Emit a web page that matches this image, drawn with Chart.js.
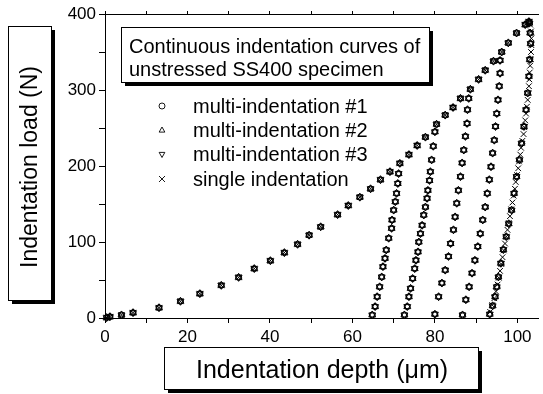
<!DOCTYPE html>
<html>
<head>
<meta charset="utf-8">
<script src="https://cdn.jsdelivr.net/npm/chart.js@4/dist/chart.umd.min.js"></script>
<style>
html,body{margin:0;padding:0;background:#fff;}
#wrap{width:543px;height:394px;position:relative;}
</style>
</head>
<body>
<div id="wrap"><canvas id="c" width="543" height="394"></canvas></div>
<script>
// ---- data ----
const seriesNames = ['multi-indentation #1','multi-indentation #2','multi-indentation #3','single indentation'];
const titleLines = ['Continuous indentation curves of','unstressed SS400 specimen'];
const xTitle = 'Indentation depth (\u03BCm)';
const yTitle = 'Indentation load (N)';

// loading envelope (depth um, load N)
const loadDepth = [0.4,1.2,4.0,6.8,13.1,18.3,23.0,28.2,32.4,36.2,40.1,43.5,46.7,49.5,52.3,56.4,59.0,61.8,64.4,66.8,69.1,71.5,73.7,75.7,77.7,80.4,82.5,84.4,86.2,88.6,90.6,92.2,94.2,96.2,97.8,99.8,101.9,102.8];
const loadForce = [0.5,1.7,4,7,13.5,22,32,43,53.5,65,75.4,86,97,109,120,136,148,159,170,182,192.5,203.5,215,227,238,255,267,277,289,301,314,326,338,350,362,375,386,390];

// unloading curves of multi-indentation
const unload1Depth = [71.2,71.0,70.7,70.4,70.0,69.6,69.5,68.8,68.2,67.9,67.4,67.1,66.6,66.0,65.5,64.8];
const unload1Force = [190,177,164,153,142,129,118,105,89.5,78.5,67.5,54,41,28,15,4];
const unload2Depth = [80.0,79.6,79.2,78.9,78.7,78.3,78.1,77.7,77.3,76.9,76.5,76.1,75.9,75.4,75.1,74.6,74.1,73.7,73.3,72.6];
const unload2Force = [245,226,208,192.5,181,168,157.5,146,135.5,122,111,100,87,76,65,52,39,28,15,4];
const unload3Depth = [88.2,87.9,87.8,87.4,87.0,86.6,86.2,85.7,85.3,84.9,84.5,83.8,83.3,82.5,81.7,80.9,80.0];
const unload3Force = [289,274,256,239,221,204,186,168,151,133,116,98,81,63,46,28,5];
const unload4Depth = [95.8,95.8,95.6,95.3,95.0,94.7,94.4,94.0,93.6,93.2,92.7,92.2,91.6,91.0,90.4,89.7,89.0,88.3,87.5,86.7];
const unload4Force = [339,322,305,287,269,252,234,217,199,182,164,146,129,111,94,76,59,41,24,4];
const unload5Depth = [102.9,103.1,103.2,103.0,102.8,102.5,102.1,101.6,101.0,100.5,99.8,99.2,98.6,97.9,97.3,96.6,96.0,95.4,95.0,94.6,94.0,93.3];
const unload5Force = [388,375,361,340,318,296,274,252,230,208,186,164,142,124,107,90,72,54,41,28,16,5];

// single indentation final unloading
const singleUnloadDepth = [103.1,103.3,103.4,103.4,103.3,103.2,103.1,103.0,102.9,102.8,102.7,102.5,102.3,102.1,101.9,101.7,101.5,101.2,100.9,100.7,100.4,100.2,99.9,99.6,99.4,99.1,98.8,98.5,98.2,97.9,97.6,97.3,97.0,96.7,96.4,96.1,95.8,95.5,95.2,94.8,94.4,93.9,93.4];
const singleUnloadForce = [386,377,368,359,350,341,332,323,314,305,296,287,278,269,260,251,242,233,224,215,206,197,188,179,170,161,152,143,134,125,116,107,98,89,80,71,62,53,44,35,26,17,8];

const xTickValues = [0,20,40,60,80,100];
const yTickValues = [0,100,200,300,400];

// ---- build point lists ----
function zip(xs, ys){ return xs.map((x,i)=>({x:x, y:ys[i]})); }
const multiPoints = [].concat(
  zip(loadDepth, loadForce),
  zip(unload1Depth, unload1Force),
  zip(unload2Depth, unload2Force),
  zip(unload3Depth, unload3Force),
  zip(unload4Depth, unload4Force),
  zip(unload5Depth, unload5Force)
);
const singlePoints = [].concat(zip(loadDepth, loadForce), zip(singleUnloadDepth, singleUnloadForce));

const styles = [
  {pointStyle:'circle', rotation:0, r:3},
  {pointStyle:'triangle', rotation:0, r:4},
  {pointStyle:'triangle', rotation:180, r:4},
  {pointStyle:'crossRot', rotation:0, r:4}
];
const FONT = "'Liberation Sans', Arial, Helvetica, sans-serif";
Chart.defaults.font.family = FONT;
Chart.defaults.color = '#000';

const datasets = seriesNames.map((name,i)=>({
  label: name,
  data: i < 3 ? multiPoints : singlePoints,
  showLine: false,
  pointStyle: styles[i].pointStyle,
  pointRotation: styles[i].rotation,
  pointRadius: styles[i].r,
  pointBorderWidth: 1,
  borderColor: '#000',
  backgroundColor: 'rgba(0,0,0,0)',
  pointBackgroundColor: 'rgba(0,0,0,0)',
  pointBorderColor: '#000',
  clip: false
}));

function shadowBox(ctx, x, y, w, h){
  ctx.save();
  ctx.fillStyle = '#000';
  ctx.fillRect(x+4, y+4, w, h);
  ctx.fillStyle = '#fff';
  ctx.fillRect(x, y, w, h);
  ctx.strokeStyle = '#000';
  ctx.lineWidth = 1;
  ctx.strokeRect(x+0.5, y+0.5, w, h);
  ctx.restore();
}
function marker(ctx, style, x, y, r){
  ctx.save();
  ctx.strokeStyle = '#000';
  ctx.lineWidth = 0.9;
  ctx.beginPath();
  if (style === 0){ ctx.arc(x, y, r, 0, Math.PI*2); }
  else if (style === 1){ ctx.moveTo(x, y-r); ctx.lineTo(x+r*0.95, y+r*0.7); ctx.lineTo(x-r*0.95, y+r*0.7); ctx.closePath(); }
  else if (style === 2){ ctx.moveTo(x, y+r); ctx.lineTo(x+r*0.95, y-r*0.7); ctx.lineTo(x-r*0.95, y-r*0.7); ctx.closePath(); }
  else { ctx.moveTo(x-r, y-r); ctx.lineTo(x+r, y+r); ctx.moveTo(x+r, y-r); ctx.lineTo(x-r, y+r); }
  ctx.stroke();
  ctx.restore();
}

const decor = {
  id: 'decor',
  afterDraw(chart){
    const ctx = chart.ctx;
    // legend title box
    shadowBox(ctx, 121, 27, 308, 55);
    ctx.save();
    ctx.fillStyle = '#000';
    ctx.font = '20px ' + FONT;
    ctx.textAlign = 'left';
    ctx.textBaseline = 'alphabetic';
    ctx.fillText(titleLines[0], 129, 53);
    ctx.fillText(titleLines[1], 129, 76);
    // legend entries
    const rowsY = [106, 130, 154.5, 179];
    seriesNames.forEach((name, i)=>{
      marker(ctx, i, 162, rowsY[i], 3);
      ctx.fillText(name, 193, rowsY[i] + 6.8);
    });
    ctx.restore();

    // y axis title box
    shadowBox(ctx, 8, 26, 43, 274);
    ctx.save();
    ctx.translate(37, 167);
    ctx.rotate(-Math.PI/2);
    ctx.fillStyle = '#000';
    ctx.font = '23px ' + FONT;
    ctx.textAlign = 'center';
    ctx.textBaseline = 'alphabetic';
    ctx.fillText(yTitle, 0, 0);
    ctx.restore();

    // x axis title box
    shadowBox(ctx, 164, 347, 314, 42);
    ctx.save();
    ctx.fillStyle = '#000';
    ctx.font = '25px ' + FONT;
    ctx.textAlign = 'center';
    ctx.textBaseline = 'alphabetic';
    ctx.fillText(xTitle, 322, 378);
    ctx.restore();
  }
};

new Chart(document.getElementById('c'), {
  type: 'scatter',
  data: { datasets },
  options: {
    responsive: false,
    animation: false,
    devicePixelRatio: 1,
    layout: { padding: { left: 0, right: 3, top: 0, bottom: 0 } },
    plugins: { legend: { display: false }, tooltip: { enabled: false } },
    scales: {
      x: {
        type: 'linear', position: 'bottom', min: 0, max: 105,
        afterFit: s => { s.height = 76; },
        grid: { drawOnChartArea: false, drawTicks: true, tickLength: 5, color: '#000', tickColor: '#000' },
        border: { display: true, color: '#000', width: 1 },
        ticks: { stepSize: 10, includeBounds: false, autoSkip: false, maxRotation: 0, padding: 4,
          font: { size: 17 }, color: '#000',
          callback: v => xTickValues.includes(v) ? String(v) : '' }
      },
      x2: {
        type: 'linear', position: 'top', min: 0, max: 105,
        afterFit: s => { s.height = 14; },
        grid: { drawOnChartArea: false, drawTicks: true, tickLength: 3, color: '#000', tickColor: '#000' },
        border: { display: true, color: '#000', width: 1 },
        ticks: { stepSize: 10, includeBounds: false, autoSkip: false, display: true, callback: () => '' , font:{size:1}}
      },
      y: {
        type: 'linear', position: 'left', min: 0, max: 400,
        afterFit: s => { s.width = 105; },
        grid: { drawOnChartArea: false, drawTicks: true, tickLength: 6, color: '#000', tickColor: '#000' },
        border: { display: true, color: '#000', width: 1 },
        ticks: { stepSize: 50, includeBounds: false, autoSkip: false, padding: 3,
          font: { size: 17 }, color: '#000',
          callback: v => yTickValues.includes(v) ? String(v) : '' }
      }
    }
  },
  plugins: [decor]
});
</script>
</body>
</html>
